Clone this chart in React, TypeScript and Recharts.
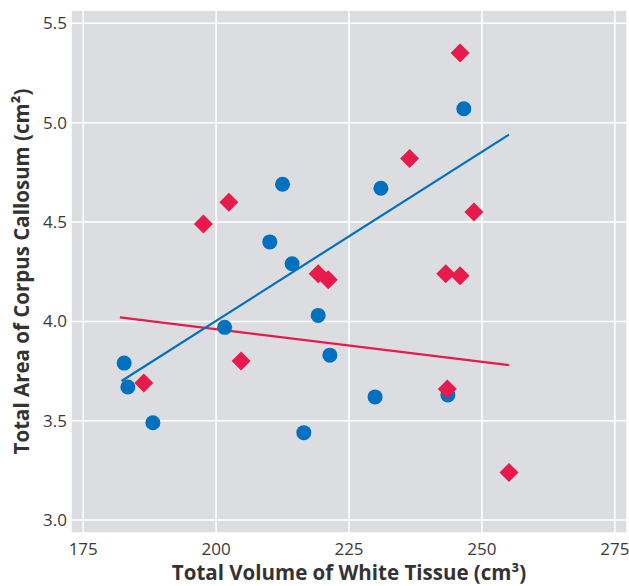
import { ScatterChart, Scatter, XAxis, YAxis, CartesianGrid, Label } from "recharts";

const volumeTicks = [175, 200, 225, 250, 275];
const areaTicks = [3.0, 3.5, 4.0, 4.5, 5.0, 5.5];

// circles (blue group)
const blueVolume = [182.7, 183.4, 188.1, 201.6, 210.1, 212.5, 214.3, 219.2, 221.4, 216.5, 229.9, 231.0, 243.6, 246.6];
const blueArea = [3.79, 3.67, 3.49, 3.97, 4.40, 4.69, 4.29, 4.03, 3.83, 3.44, 3.62, 4.67, 3.63, 5.07];

// diamonds (red group)
const redVolume = [186.4, 197.6, 202.4, 204.7, 219.2, 221.1, 236.4, 243.2, 243.5, 245.9, 245.9, 248.5, 255.1];
const redArea = [3.69, 4.49, 4.60, 3.80, 4.24, 4.21, 4.82, 4.24, 3.66, 5.35, 4.23, 4.55, 3.24];

// fitted lines
const blueFitVolume = [182.2, 255.1];
const blueFitArea = [3.70, 4.94];
const redFitVolume = [181.9, 255.1];
const redFitArea = [4.02, 3.78];

const BLUE = "#0070c0";
const RED = "#e8194b";
const FONT = "'Open Sans', 'DejaVu Sans', sans-serif";

const zip = (xs: number[], ys: number[]) => xs.map((x, i) => ({ x, y: ys[i] }));

const Circle = (props: any) => <circle cx={props.cx} cy={props.cy} r={7.5} fill={BLUE} />;

const Diamond = (props: any) => {
  const { cx, cy } = props;
  const h = 9.5;
  return <polygon points={`${cx},${cy - h} ${cx + h},${cy} ${cx},${cy + h} ${cx - h},${cy}`} fill={RED} />;
};

const Nothing = () => <g />;

const YTitle = (props: any) => {
  const { viewBox } = props;
  const cx = 29;
  const cy = viewBox.y + viewBox.height / 2;
  return (
    <text
      x={cx}
      y={cy}
      transform={`rotate(-90, ${cx}, ${cy})`}
      textAnchor="middle"
      fontFamily={FONT}
      fontWeight="bold"
      fontSize={20.5}
      fill="#333"
    >
      Total Area of Corpus Callosum (cm²)
    </text>
  );
};

const XTitle = (props: any) => {
  const { viewBox } = props;
  const cx = viewBox.x + viewBox.width / 2;
  return (
    <text x={cx} y={580} textAnchor="middle" fontFamily={FONT} fontWeight="bold" fontSize={20.5} fill="#333">
      Total Volume of White Tissue (cm³)
    </text>
  );
};

export default function App() {
  const tickStyle = { fontFamily: FONT, fontSize: 17, fill: "#3a3a3a" };
  return (
    <div style={{ position: "absolute", left: 0, top: 0 }}>
      <ScatterChart width={629} height={586} margin={{ top: 10, right: 2, left: 0, bottom: 0 }}>
        <CartesianGrid fill="#dcdde0" stroke="#ffffff" strokeWidth={1.5} />
        <XAxis
          type="number"
          dataKey="x"
          domain={[172.7, 277.3]}
          ticks={volumeTicks}
          allowDataOverflow
          axisLine={false}
          tickLine={false}
          tickSize={0}
          tickMargin={10}
          height={53}
          tick={tickStyle}
        >
          <Label content={XTitle} />
        </XAxis>
        <YAxis
          type="number"
          dataKey="y"
          domain={[2.935, 5.567]}
          ticks={areaTicks}
          allowDataOverflow
          axisLine={false}
          tickLine={false}
          tickSize={0}
          tickMargin={4}
          width={71}
          tick={tickStyle}
          tickFormatter={(v: number) => v.toFixed(1)}
        >
          <Label content={YTitle} />
        </YAxis>
        <Scatter data={zip(redFitVolume, redFitArea)} line={{ stroke: RED, strokeWidth: 2.2 }} shape={Nothing} isAnimationActive={false} />
        <Scatter data={zip(blueFitVolume, blueFitArea)} line={{ stroke: BLUE, strokeWidth: 2.2 }} shape={Nothing} isAnimationActive={false} />
        <Scatter data={zip(blueVolume, blueArea)} shape={Circle} isAnimationActive={false} />
        <Scatter data={zip(redVolume, redArea)} shape={Diamond} isAnimationActive={false} />
      </ScatterChart>
    </div>
  );
}
